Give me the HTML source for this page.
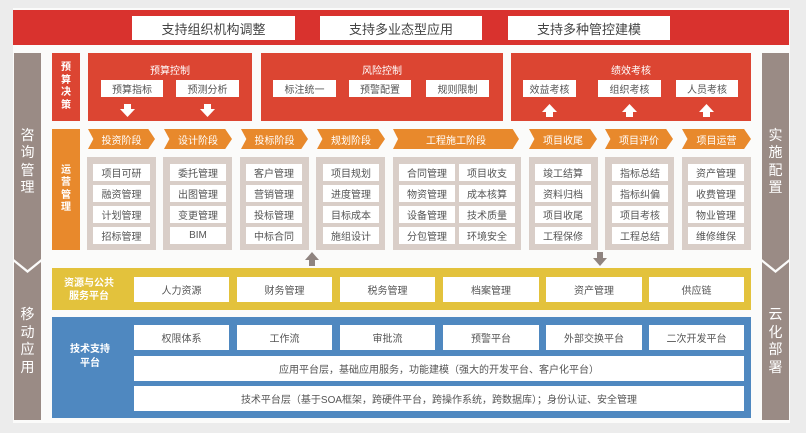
<!DOCTYPE html><html><head><meta charset="utf-8"><style>
*{margin:0;padding:0;box-sizing:border-box}
body{width:806px;height:433px;background:#ececec;position:relative;overflow:hidden;font-family:"Liberation Sans","Noto Sans CJK SC",sans-serif}
div{position:absolute}
.w{background:#fff;color:#555;font-size:10px;text-align:center;display:flex;align-items:center;justify-content:center}
.t{color:#fff;font-size:10px;text-align:center}
.vt{color:#fff;display:flex;align-items:center;justify-content:center;text-align:center;line-height:1.25}
.rp{background:#dc4532}
.st{background:#e8892c;color:#fff;font-size:10px;display:flex;align-items:center;justify-content:center;clip-path:polygon(0 0,90% 0,100% 50%,90% 100%,0 100%,8% 50%)}
.gb{background:#d9cec8}
.ar{width:0;height:0}
</style></head><body>
<div style="left:13px;top:8px;width:777px;height:415px;background:#fbfbfa"></div>
<div style="left:13px;top:10px;width:776px;height:35px;background:#d9322e"></div>
<div class="w" style="left:132px;top:16px;width:163px;height:24px;font-size:13px;color:#444">支持组织机构调整</div>
<div class="w" style="left:320px;top:16px;width:162px;height:24px;font-size:13px;color:#444">支持多业态型应用</div>
<div class="w" style="left:508px;top:16px;width:162px;height:24px;font-size:13px;color:#444">支持多种管控建模</div>

<div class="vt" style="left:14px;top:53px;width:27px;height:217px;background:#9a8b85;font-size:14px;clip-path:polygon(0 0,100% 0,100% 95%,50% 100%,0 95%)">咨<br>询<br>管<br>理</div>
<div class="vt" style="left:14px;top:262px;width:27px;height:158px;background:#9a8b85;font-size:14px;clip-path:polygon(0 0,50% 7%,100% 0,100% 100%,0 100%)">移<br>动<br>应<br>用</div>
<div class="vt" style="left:762px;top:53px;width:27px;height:217px;background:#9a8b85;font-size:14px;clip-path:polygon(0 0,100% 0,100% 95%,50% 100%,0 95%)">实<br>施<br>配<br>置</div>
<div class="vt" style="left:762px;top:262px;width:27px;height:158px;background:#9a8b85;font-size:14px;clip-path:polygon(0 0,50% 7%,100% 0,100% 100%,0 100%)">云<br>化<br>部<br>署</div>

<div class="vt rp" style="left:52px;top:53px;width:28px;height:68px;font-size:10px;font-weight:bold">预<br>算<br>决<br>策</div>
<div class="vt" style="left:52px;top:129px;width:28px;height:121px;background:#e8892c;font-size:10px;font-weight:bold">运<br>营<br>管<br>理</div>

<div class="rp" style="left:88px;top:53px;width:164px;height:68px"></div>
<div class="rp" style="left:261px;top:53px;width:242px;height:68px"></div>
<div class="rp" style="left:511px;top:53px;width:240px;height:68px"></div>
<div class="t" style="left:88px;top:62px;width:164px">预算控制</div>
<div class="t" style="left:261px;top:62px;width:242px">风险控制</div>
<div class="t" style="left:511px;top:62px;width:240px">绩效考核</div>
<div class="w" style="left:101px;top:80px;width:62px;height:17px">预算指标</div>
<div class="w" style="left:176px;top:80px;width:63px;height:17px">预测分析</div>
<div class="w" style="left:273px;top:80px;width:63px;height:17px">标注统一</div>
<div class="w" style="left:349px;top:80px;width:62px;height:17px">预警配置</div>
<div class="w" style="left:426px;top:80px;width:63px;height:17px">规则限制</div>
<div class="w" style="left:523px;top:80px;width:53px;height:17px">效益考核</div>
<div class="w" style="left:598px;top:80px;width:63px;height:17px">组织考核</div>
<div class="w" style="left:676px;top:80px;width:62px;height:17px">人员考核</div>
<svg style="position:absolute;left:0;top:0" width="806" height="433">
<g fill="#fff">
<path d="M124 104h7v5h4l-7.5 8-7.5-8h4z"/>
<path d="M204 104h7v5h4l-7.5 8-7.5-8h4z"/>
<path d="M546 117h7v-5h4l-7.5-8-7.5 8h4z"/>
<path d="M626 117h7v-5h4l-7.5-8-7.5 8h4z"/>
<path d="M703 117h7v-5h4l-7.5-8-7.5 8h4z"/>
</g>
<g fill="#8f8480">
<path d="M309 266h6v-6h4l-7-8-7 8h4z"/>
<path d="M597 252h6v6h4l-7 8-7-8h4z"/>
</g>
</svg>

<div class="st" style="left:88px;top:129px;width:67px;height:20px">投资阶段</div>
<div class="st" style="left:164px;top:129px;width:68px;height:20px">设计阶段</div>
<div class="st" style="left:241px;top:129px;width:67px;height:20px">投标阶段</div>
<div class="st" style="left:317px;top:129px;width:68px;height:20px">规划阶段</div>
<div class="st" style="left:393px;top:129px;width:126px;height:20px;clip-path:polygon(0 0,95% 0,100% 50%,95% 100%,0 100%,4% 50%)">工程施工阶段</div>
<div class="st" style="left:529px;top:129px;width:68px;height:20px">项目收尾</div>
<div class="st" style="left:605px;top:129px;width:68px;height:20px">项目评价</div>
<div class="st" style="left:682px;top:129px;width:69px;height:20px">项目运营</div>

<div class="gb" style="left:87px;top:157px;width:69px;height:93px"></div>
<div class="gb" style="left:163px;top:157px;width:69px;height:93px"></div>
<div class="gb" style="left:240px;top:157px;width:69px;height:93px"></div>
<div class="gb" style="left:316px;top:157px;width:69px;height:93px"></div>
<div class="gb" style="left:393px;top:157px;width:128px;height:93px"></div>
<div class="gb" style="left:529px;top:157px;width:69px;height:93px"></div>
<div class="gb" style="left:605px;top:157px;width:69px;height:93px"></div>
<div class="gb" style="left:682px;top:157px;width:69px;height:93px"></div>

<div class="w" style="left:93px;top:164px;width:57px;height:17px">项目可研</div>
<div class="w" style="left:93px;top:185px;width:57px;height:17px">融资管理</div>
<div class="w" style="left:93px;top:206px;width:57px;height:17px">计划管理</div>
<div class="w" style="left:93px;top:227px;width:57px;height:17px">招标管理</div>
<div class="w" style="left:170px;top:164px;width:56px;height:17px">委托管理</div>
<div class="w" style="left:170px;top:185px;width:56px;height:17px">出图管理</div>
<div class="w" style="left:170px;top:206px;width:56px;height:17px">变更管理</div>
<div class="w" style="left:170px;top:227px;width:56px;height:17px">BIM</div>
<div class="w" style="left:246px;top:164px;width:56px;height:17px">客户管理</div>
<div class="w" style="left:246px;top:185px;width:56px;height:17px">营销管理</div>
<div class="w" style="left:246px;top:206px;width:56px;height:17px">投标管理</div>
<div class="w" style="left:246px;top:227px;width:56px;height:17px">中标合同</div>
<div class="w" style="left:323px;top:164px;width:56px;height:17px">项目规划</div>
<div class="w" style="left:323px;top:185px;width:56px;height:17px">进度管理</div>
<div class="w" style="left:323px;top:206px;width:56px;height:17px">目标成本</div>
<div class="w" style="left:323px;top:227px;width:56px;height:17px">施组设计</div>
<div class="w" style="left:399px;top:164px;width:56px;height:17px">合同管理</div>
<div class="w" style="left:399px;top:185px;width:56px;height:17px">物资管理</div>
<div class="w" style="left:399px;top:206px;width:56px;height:17px">设备管理</div>
<div class="w" style="left:399px;top:227px;width:56px;height:17px">分包管理</div>
<div class="w" style="left:459px;top:164px;width:56px;height:17px">项目收支</div>
<div class="w" style="left:459px;top:185px;width:56px;height:17px">成本核算</div>
<div class="w" style="left:459px;top:206px;width:56px;height:17px">技术质量</div>
<div class="w" style="left:459px;top:227px;width:56px;height:17px">环境安全</div>
<div class="w" style="left:535px;top:164px;width:56px;height:17px">竣工结算</div>
<div class="w" style="left:535px;top:185px;width:56px;height:17px">资料归档</div>
<div class="w" style="left:535px;top:206px;width:56px;height:17px">项目收尾</div>
<div class="w" style="left:535px;top:227px;width:56px;height:17px">工程保修</div>
<div class="w" style="left:612px;top:164px;width:56px;height:17px">指标总结</div>
<div class="w" style="left:612px;top:185px;width:56px;height:17px">指标纠偏</div>
<div class="w" style="left:612px;top:206px;width:56px;height:17px">项目考核</div>
<div class="w" style="left:612px;top:227px;width:56px;height:17px">工程总结</div>
<div class="w" style="left:688px;top:164px;width:56px;height:17px">资产管理</div>
<div class="w" style="left:688px;top:185px;width:56px;height:17px">收费管理</div>
<div class="w" style="left:688px;top:206px;width:56px;height:17px">物业管理</div>
<div class="w" style="left:688px;top:227px;width:56px;height:17px">维修维保</div>

<div style="left:52px;top:268px;width:699px;height:42px;background:#e3c23c"></div>
<div class="t" style="left:55px;top:277px;width:68px;font-weight:bold;line-height:13px">资源与公共<br>服务平台</div>
<div class="w" style="left:134px;top:277px;width:95px;height:25px">人力资源</div>
<div class="w" style="left:237px;top:277px;width:95px;height:25px">财务管理</div>
<div class="w" style="left:340px;top:277px;width:95px;height:25px">税务管理</div>
<div class="w" style="left:443px;top:277px;width:96px;height:25px">档案管理</div>
<div class="w" style="left:546px;top:277px;width:96px;height:25px">资产管理</div>
<div class="w" style="left:649px;top:277px;width:95px;height:25px">供应链</div>

<div style="left:52px;top:317px;width:699px;height:101px;background:#4f88c0"></div>
<div class="t" style="left:55px;top:343px;width:70px;font-weight:bold;line-height:14px">技术支持<br>平台</div>
<div class="w" style="left:134px;top:325px;width:95px;height:25px">权限体系</div>
<div class="w" style="left:237px;top:325px;width:95px;height:25px">工作流</div>
<div class="w" style="left:340px;top:325px;width:95px;height:25px">审批流</div>
<div class="w" style="left:443px;top:325px;width:96px;height:25px">预警平台</div>
<div class="w" style="left:546px;top:325px;width:96px;height:25px">外部交换平台</div>
<div class="w" style="left:649px;top:325px;width:95px;height:25px">二次开发平台</div>
<div class="w" style="left:134px;top:356px;width:610px;height:25px">应用平台层，基础应用服务，功能建模（强大的开发平台、客户化平台）</div>
<div class="w" style="left:134px;top:386px;width:610px;height:25px">技术平台层（基于SOA框架，跨硬件平台，跨操作系统，跨数据库）；身份认证、安全管理</div>
</body></html>
